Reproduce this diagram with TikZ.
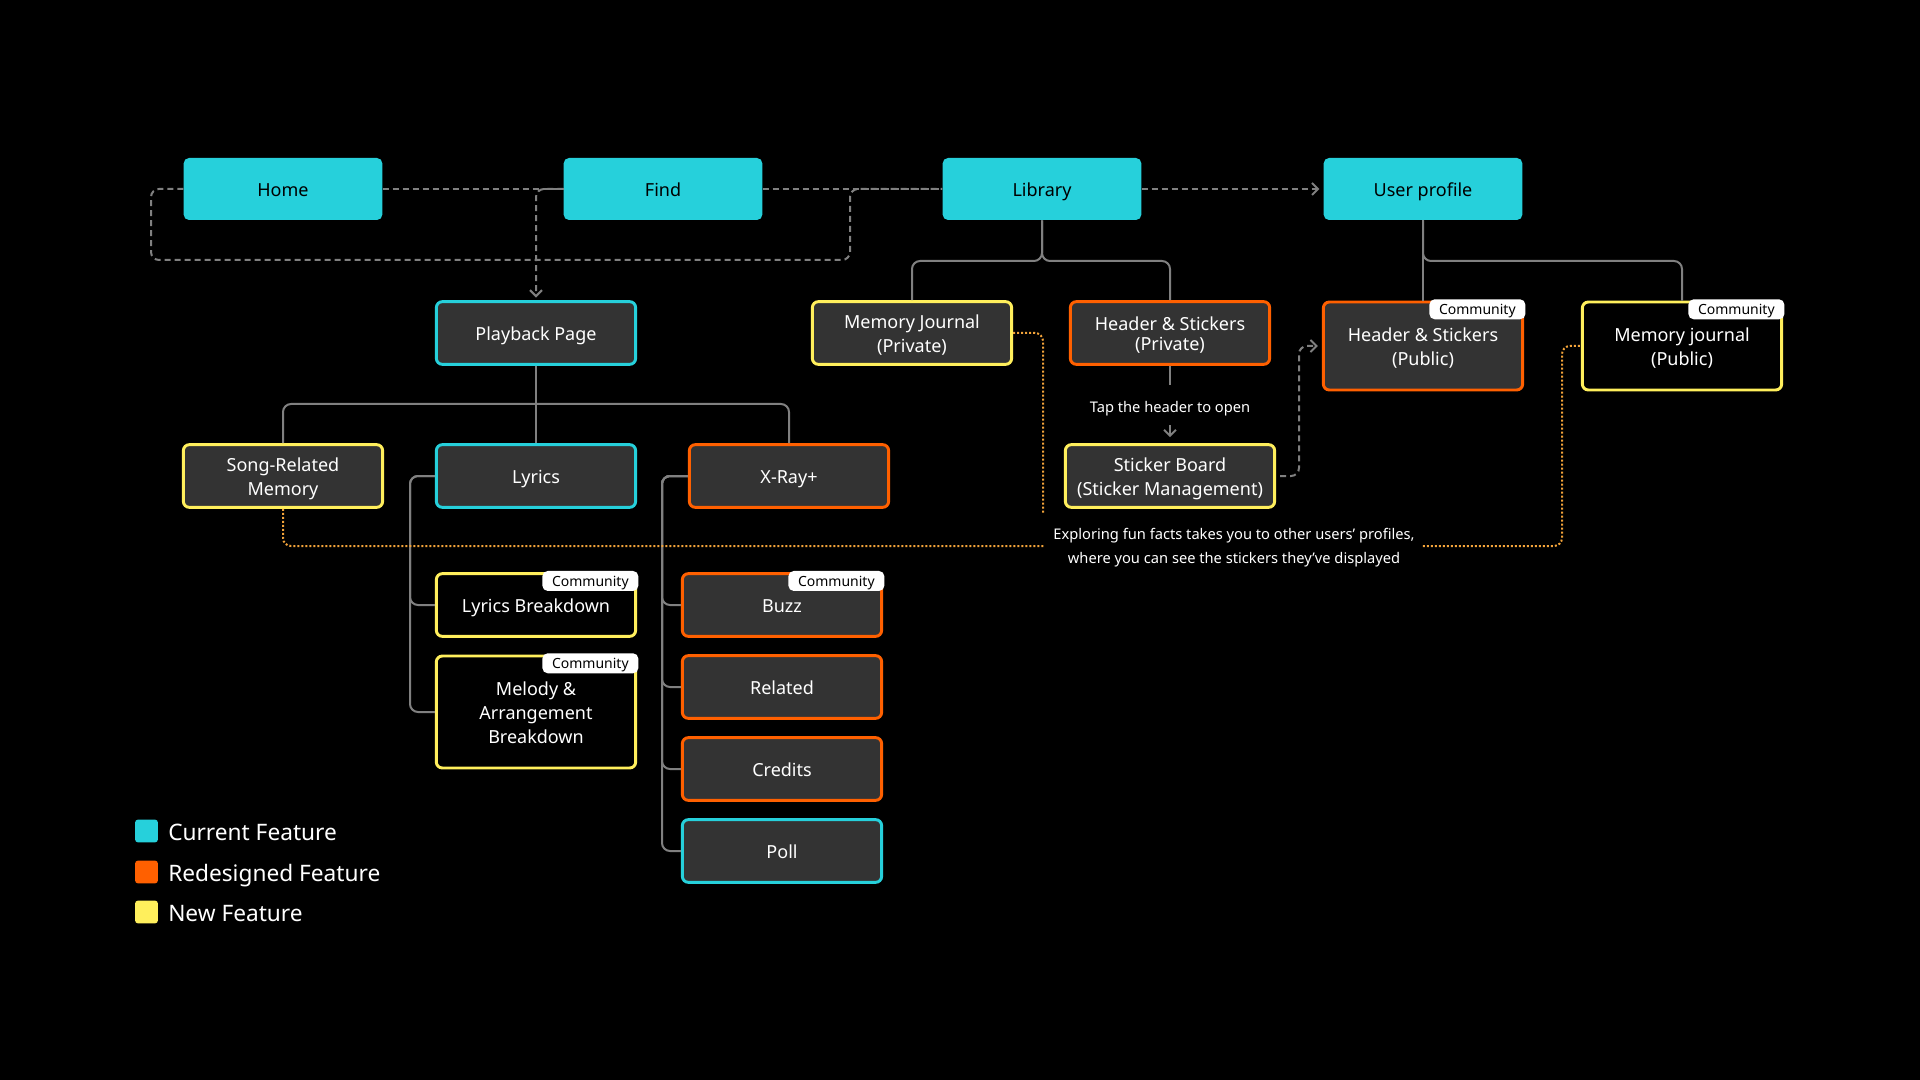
\documentclass[tikz,border=0pt]{standalone}
\usepackage{fontspec}
\setmainfont{Noto Sans}
\usetikzlibrary{arrows.meta,calc}
\definecolor{cyanc}{HTML}{26D0DB}
\definecolor{orangec}{HTML}{FF6000}
\definecolor{yellowc}{HTML}{FFEF5C}
\definecolor{boxfill}{HTML}{333333}
\definecolor{linegray}{HTML}{808080}
\definecolor{dotc}{HTML}{F2A33A}
\newcommand\mainfs{\fontsize{13.5}{18}\selectfont}
\newcommand\tagfs{\fontsize{10.5}{12}\selectfont}
\newcommand\smallfs{\fontsize{11}{18}\selectfont}
\newcommand\legfs{\fontsize{17}{20}\selectfont}
\begin{document}
\begin{tikzpicture}[x=0.75pt,y=-0.75pt,
  topnode/.style={fill=cyanc, rounded corners=4pt, minimum width=149pt, minimum height=46.5pt, inner sep=0pt, font=\mainfs, text=black, lone},
  fbox/.style={draw, line width=2.2pt, rounded corners=4.5pt, fill=boxfill, text=white, align=center, minimum width=149.5pt, minimum height=47pt, inner sep=0pt, font=\mainfs},
  lone/.style={text height=14.2pt, text depth=3pt},
  ltwo/.style={text height=32.2pt, text depth=3pt},
  ltwotight/.style={text height=29.7pt, text depth=3pt},
  lthree/.style={text height=50.2pt, text depth=3pt},
  cureb/.style={fbox, draw=cyanc},
  redeb/.style={fbox, draw=orangec},
  neweb/.style={fbox, draw=yellowc},
  tag/.style={fill=white, text=black, rounded corners=4pt, minimum width=72pt, minimum height=15pt, inner sep=0pt, font=\tagfs, anchor=north east, text height=10.6pt, text depth=2.4pt},
  conn/.style={draw=linegray, line width=1.5pt, rounded corners=6pt},
  dconn/.style={conn, dash pattern=on 4.5pt off 3pt},
  oconn/.style={draw=dotc, line width=1.5pt, rounded corners=6pt, dash pattern=on 1.5pt off 1.5pt},
  tip/.style={-{Straight Barb[length=4.5pt,width=9pt]}},
  legsq/.style={rounded corners=2pt, minimum width=17pt, minimum height=17pt, inner sep=0pt},
  legtext/.style={text=white, font=\legfs, anchor=west, inner sep=0pt, text height=17.8pt, text depth=3.6pt}
]
\fill[black] (0,0) rectangle (1920,1080);
\useasboundingbox (0,0) rectangle (1920,1080);

% top row
\node[topnode] (home) at (283,189) {Home};
\node[topnode] (find) at (663,189) {Find};
\node[topnode] (lib) at (1042,189) {Library};
\node[topnode] (up) at (1423,189) {User profile};

% second row
\node[cureb, lone] (pb) at (536,333) {Playback Page};
\node[neweb, ltwo] (mjpriv) at (912,333) {Memory Journal\\(Private)};
\node[redeb, ltwotight] (hspriv) at (1170,333) {Header \& Stickers\\[-2.5pt](Private)};
\node[redeb, ltwo, minimum height=66pt] (hspub) at (1423,346) {Header \& Stickers\\(Public)};
\node[neweb, ltwo, fill=black, minimum height=66pt] (mjpub) at (1682,346) {Memory journal\\(Public)};

% third row
\node[neweb, ltwo] (song) at (283,476) {Song-Related\\Memory};
\node[cureb, lone] (lyrics) at (536,476) {Lyrics};
\node[redeb, lone] (xray) at (789,476) {X-Ray+};
\node[neweb, ltwo, minimum width=157pt] (sticker) at (1170,476) {Sticker Board\\(Sticker Management)};

% lower boxes
\node[neweb, lone, fill=black] (lb) at (536,605) {Lyrics Breakdown};
\node[neweb, lthree, fill=black, minimum height=84pt] (mel) at (536,712) {Melody \&\\Arrangement\\Breakdown};
\node[redeb, lone] (buzz) at (782,605) {Buzz};
\node[redeb, lone] (rel) at (782,687) {Related};
\node[redeb, lone] (cred) at (782,769) {Credits};
\node[cureb, lone] (poll) at (782,851) {Poll};

% community tags
\node[tag] (tlb) at ($(lb.north east)+(1.5,-1.5)$) {Community};
\node[tag] (tmel) at ($(mel.north east)+(1.5,-1.5)$) {Community};
\node[tag] (tbuzz) at ($(buzz.north east)+(1.5,-1.5)$) {Community};
\node[tag] (thspub) at ($(hspub.north east)+(1.5,-1.5)$) {Community};
\node[tag] (tmjpub) at ($(mjpub.north east)+(1.5,-1.5)$) {Community};

% labels
\node[text=white, font=\smallfs, minimum height=30pt, inner sep=0pt, text height=14pt, text depth=2.5pt] (tap) at (1170,405) {Tap the header to open};
\node[text=white, font=\smallfs, align=center, inner xsep=6pt, inner ysep=0pt, text height=27.5pt, text depth=2.5pt] (explore) at (1234,547) {Exploring fun facts takes you to other users’ profiles,\\where you can see the stickers they’ve displayed};

% dashed navigation connectors
\draw[dconn] (home.east) -- (find.west);
\draw[dconn, tip, shorten >=2pt] (find.west) -- (536,189) -- (pb.north);
\draw[dconn] (home.west) -- (151,189) -- (151,260) -- (850,260) -- (850,189) -- (lib.west);
\draw[dconn] (find.east) -- (lib.west);
\draw[dconn, tip, shorten >=3pt] (lib.east) -- (up.west);
\coordinate (sbturn) at (1299,346);
\draw[dconn, tip, shorten <=3pt, shorten >=3pt] (sticker.east) -| (sbturn) -- (hspub.west);

% library tree
\draw[conn] (lib.south) -- (1042,261) -- (912,261) -- (mjpriv.north);
\draw[conn] (lib.south) -- (1042,261) -- (1170,261) -- (hspriv.north);
% user profile tree
\draw[conn] (up.south) -- (hspub.north);
\draw[conn] (up.south) -- (1423,261) -- (1682,261) -- (mjpub.north);
% header -> sticker board
\draw[conn] (hspriv.south) -- (tap.north);
\draw[conn, tip, shorten >=4.5pt] (tap.south) -- (sticker.north);

% playback tree
\draw[conn] (pb.south) -- (lyrics.north);
\draw[conn] (song.north) -- (283,404) -- (789,404) -- (xray.north);
% lyrics children
\draw[conn] (lyrics.west) -- (410,476) -- (410,712) -- (mel.west);
\draw[conn] (lyrics.west) -- (410,476) -- (410,605) -- (lb.west);
% x-ray children
\draw[conn] (xray.west) -- (662,476) -- (662,851) -- (poll.west);
\draw[conn] (xray.west) -- (662,476) -- (662,769) -- (cred.west);
\draw[conn] (xray.west) -- (662,476) -- (662,687) -- (rel.west);
\draw[conn] (xray.west) -- (662,476) -- (662,605) -- (buzz.west);

% dotted orange links
\coordinate (mjend) at (1043,513);
\draw[oconn] (song.south) -- (283,546) -- (explore.west |- 0,546);
\draw[oconn] (mjpriv.east) -- (1043,333) -- (mjend);
\draw[oconn] (explore.east |- 0,546) -- (1562,546) -- (1562,346) -- (mjpub.west);

% legend
\node[legsq, fill=cyanc] (lg1) at (146.5,831) {};
\node[legtext] (lt1) at (168,831) {Current Feature};
\node[legsq, fill=orangec] (lg2) at (146.5,872) {};
\node[legtext] (lt2) at (168,872) {Redesigned Feature};
\node[legsq, fill=yellowc] (lg3) at (146.5,912) {};
\node[legtext] (lt3) at (168,912) {New Feature};
\end{tikzpicture}
\end{document}
